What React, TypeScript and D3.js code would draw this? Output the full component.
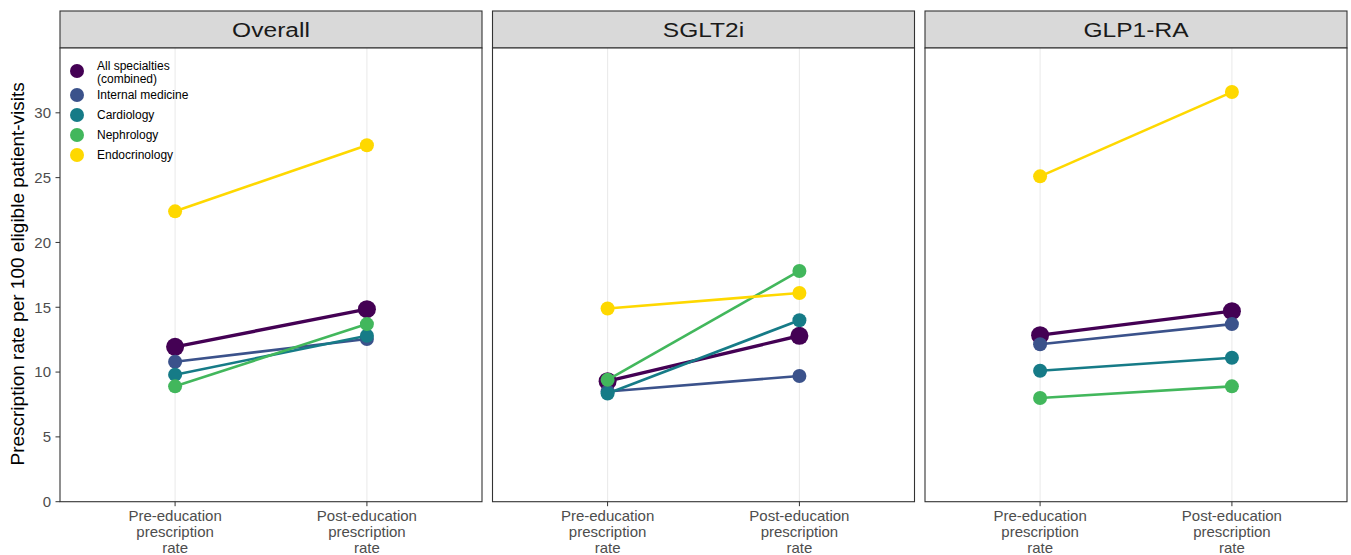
import React from "react";
import * as d3 from "d3";

const panels = ["Overall", "SGLT2i", "GLP1-RA"];
const specialties = ["All specialties (combined)", "Internal medicine", "Cardiology", "Nephrology", "Endocrinology"];
const legendLines = [["All specialties", "(combined)"], ["Internal medicine"], ["Cardiology"], ["Nephrology"], ["Endocrinology"]];
const colors = ["#440154", "#3B528B", "#167B87", "#42B75C", "#FED800"];
const timepoints = ["Pre", "Post"];
const tickLabels = [["Pre-education", "prescription", "rate"], ["Post-education", "prescription", "rate"]];

const preOverall = [11.95, 10.8, 9.8, 8.9, 22.4];
const postOverall = [14.85, 12.55, 12.8, 13.7, 27.5];
const preSGLT2i = [9.3, 8.5, 8.35, 9.4, 14.9];
const postSGLT2i = [12.8, 9.7, 14.0, 17.8, 16.1];
const preGLP1 = [12.85, 12.15, 10.1, 8.0, 25.1];
const postGLP1 = [14.7, 13.7, 11.1, 8.9, 31.6];

const yTicks = [0, 5, 10, 15, 20, 25, 30];

const panelData = [
  [preOverall, postOverall],
  [preSGLT2i, postSGLT2i],
  [preGLP1, postGLP1],
];

const W = 1351;
const H = 555;
const panelLefts = [60, 492.5, 925];
const panelW = 422;
const stripTop = 11;
const plotTop = 48;
const plotBottom = 501.7;
const font = "'Liberation Sans', Arial, sans-serif";

export default function App() {
  const y = d3.scaleLinear().domain([0, 35]).range([plotBottom, plotTop]);
  const line = d3.line<[number, number]>().x((d) => d[0]).y((d) => d[1]);

  return (
    <svg width={W} height={H} style={{ position: "absolute", left: 0, top: 0, background: "#fff" }} fontFamily={font}>
      <rect x={0} y={0} width={W} height={H} fill="#fff" />
      {/* Y axis title */}
      <text
        transform={`translate(24,${(plotTop + plotBottom) / 2 - 1}) rotate(-90)`}
        textAnchor="middle"
        fontSize={19}
        fill="#000"
      >
        Prescription rate per 100 eligible patient-visits
      </text>
      {/* Y axis ticks */}
      {yTicks.map((t) => (
        <g key={t}>
          <line x1={55.5} x2={60} y1={y(t)} y2={y(t)} stroke="#333" strokeWidth={1} />
          <text x={51} y={y(t)} dy="0.35em" textAnchor="end" fontSize={15} fill="#4d4d4d">
            {t}
          </text>
        </g>
      ))}
      {panels.map((p, pi) => {
        const left = panelLefts[pi];
        const x = d3.scalePoint<string>().domain(timepoints).range([left, left + panelW]).padding(0.6);
        const [pre, post] = panelData[pi];
        return (
          <g key={p}>
            {/* strip */}
            <rect x={left} y={stripTop} width={panelW} height={plotTop - stripTop} fill="#d9d9d9" stroke="#333" strokeWidth={1.1} />
            <text
              transform={`translate(${left + panelW / 2},${(stripTop + plotTop) / 2}) scale(1.17,1)`}
              dy="0.36em"
              textAnchor="middle"
              fontSize={21}
              fill="#1a1a1a"
            >
              {p}
            </text>
            {/* panel bg */}
            <rect x={left} y={plotTop} width={panelW} height={plotBottom - plotTop} fill="#fff" />
            {/* gridlines */}
            {timepoints.map((tp) => (
              <line key={tp} x1={x(tp)} x2={x(tp)} y1={plotTop} y2={plotBottom} stroke="#ebebeb" strokeWidth={1.1} />
            ))}
            {/* series */}
            {specialties.map((s, si) => {
              const pts: [number, number][] = [
                [x("Pre") as number, y(pre[si])],
                [x("Post") as number, y(post[si])],
              ];
              return (
                <g key={s}>
                  <path d={line(pts) || ""} fill="none" stroke={colors[si]} strokeWidth={si === 0 ? 3.4 : 2.6} />
                  {pts.map((pt, k) => (
                    <circle key={k} cx={pt[0]} cy={pt[1]} r={si === 0 ? 9 : 7} fill={colors[si]} />
                  ))}
                </g>
              );
            })}
            {/* border */}
            <rect x={left} y={plotTop} width={panelW} height={plotBottom - plotTop} fill="none" stroke="#333" strokeWidth={1.1} />
            {/* x ticks */}
            {timepoints.map((tp, ti) => (
              <g key={tp}>
                <line x1={x(tp)} x2={x(tp)} y1={plotBottom} y2={plotBottom + 4.5} stroke="#333" strokeWidth={1} />
                {tickLabels[ti].map((l, li) => (
                  <text key={li} x={x(tp)} y={521 + li * 16} textAnchor="middle" fontSize={15} fill="#4d4d4d">
                    {l}
                  </text>
                ))}
              </g>
            ))}
          </g>
        );
      })}
      {/* legend */}
      {legendLines.map((lines, i) => {
        const cy = i === 0 ? 71 : 75 + i * 20;
        return (
          <g key={i}>
            <circle cx={77} cy={cy} r={7} fill={colors[i]} />
            {lines.map((l, li) => (
              <text
                key={li}
                x={97}
                y={lines.length > 1 ? cy - 5 + li * 12.5 : cy}
                dy="0.35em"
                fontSize={12}
                fill="#000"
              >
                {l}
              </text>
            ))}
          </g>
        );
      })}
    </svg>
  );
}
